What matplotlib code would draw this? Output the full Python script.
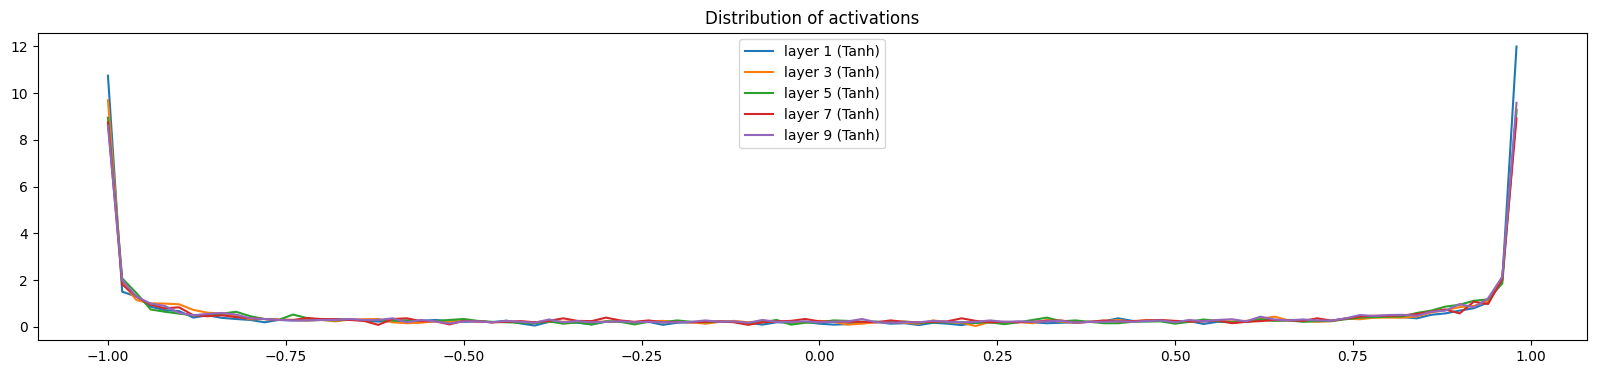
import numpy as np
import matplotlib
matplotlib.use("Agg")
import matplotlib.pyplot as plt

# histogram bins: 100 bins on [-1, 1], plotted at left bin edges
n_bins = 100
bin_edges = np.linspace(-1.0, 1.0, n_bins + 1)[:-1]

labels = ["layer 1 (Tanh)", "layer 3 (Tanh)", "layer 5 (Tanh)", "layer 7 (Tanh)", "layer 9 (Tanh)"]

layer1 = [10.75, 1.51, 1.30, 0.87, 0.72, 0.68, 0.40, 0.50, 0.39, 0.34,
          0.30, 0.20, 0.30, 0.28, 0.28, 0.30, 0.33, 0.32, 0.28, 0.23,
          0.25, 0.22, 0.26, 0.30, 0.25, 0.22, 0.24, 0.20, 0.27, 0.15,
          0.06, 0.22, 0.20, 0.18, 0.12, 0.22, 0.25, 0.20, 0.22, 0.09,
          0.18, 0.20, 0.21, 0.23, 0.22, 0.18, 0.10, 0.20, 0.18, 0.22,
          0.14, 0.10, 0.12, 0.20, 0.22, 0.14, 0.16, 0.08, 0.18, 0.14,
          0.08, 0.18, 0.20, 0.18, 0.22, 0.20, 0.16, 0.18, 0.20, 0.22,
          0.24, 0.37, 0.26, 0.24, 0.26, 0.22, 0.25, 0.13, 0.22, 0.20,
          0.22, 0.30, 0.28, 0.30, 0.30, 0.26, 0.27, 0.36, 0.40, 0.42,
          0.44, 0.42, 0.37, 0.52, 0.58, 0.70, 0.80, 1.05, 2.00, 12.0]

layer3 = [9.70, 1.90, 1.15, 1.01, 1.00, 0.97, 0.73, 0.61, 0.58, 0.46,
          0.33, 0.34, 0.32, 0.30, 0.28, 0.30, 0.24, 0.32, 0.33, 0.34,
          0.20, 0.16, 0.18, 0.25, 0.22, 0.26, 0.24, 0.20, 0.22, 0.22,
          0.20, 0.24, 0.22, 0.25, 0.20, 0.24, 0.22, 0.20, 0.24, 0.26,
          0.22, 0.20, 0.14, 0.22, 0.26, 0.20, 0.22, 0.24, 0.22, 0.20,
          0.26, 0.22, 0.10, 0.14, 0.20, 0.22, 0.18, 0.14, 0.28, 0.20,
          0.18, 0.04, 0.22, 0.20, 0.22, 0.16, 0.30, 0.22, 0.18, 0.22,
          0.24, 0.30, 0.22, 0.30, 0.26, 0.24, 0.22, 0.28, 0.25, 0.24,
          0.26, 0.35, 0.44, 0.28, 0.26, 0.22, 0.25, 0.36, 0.33, 0.40,
          0.40, 0.40, 0.45, 0.62, 0.72, 0.85, 0.90, 1.10, 2.10, 9.30]

layer5 = [8.95, 2.08, 1.45, 0.75, 0.65, 0.57, 0.50, 0.50, 0.57, 0.65,
          0.46, 0.34, 0.30, 0.53, 0.38, 0.30, 0.28, 0.32, 0.28, 0.30,
          0.28, 0.28, 0.26, 0.25, 0.30, 0.34, 0.26, 0.22, 0.20, 0.18,
          0.16, 0.24, 0.14, 0.20, 0.10, 0.24, 0.22, 0.11, 0.22, 0.20,
          0.28, 0.22, 0.20, 0.22, 0.22, 0.16, 0.20, 0.30, 0.10, 0.18,
          0.20, 0.28, 0.26, 0.22, 0.23, 0.20, 0.23, 0.18, 0.20, 0.20,
          0.20, 0.18, 0.20, 0.12, 0.20, 0.30, 0.40, 0.24, 0.28, 0.22,
          0.16, 0.16, 0.22, 0.24, 0.24, 0.14, 0.22, 0.32, 0.25, 0.20,
          0.22, 0.33, 0.26, 0.28, 0.22, 0.25, 0.25, 0.33, 0.40, 0.42,
          0.44, 0.45, 0.60, 0.70, 0.87, 0.95, 1.12, 1.18, 1.86, 9.27]

layer7 = [8.75, 1.82, 1.30, 0.95, 0.80, 0.84, 0.50, 0.46, 0.50, 0.42,
          0.37, 0.34, 0.30, 0.30, 0.38, 0.34, 0.33, 0.30, 0.26, 0.09,
          0.34, 0.37, 0.25, 0.24, 0.11, 0.26, 0.24, 0.20, 0.22, 0.25,
          0.20, 0.26, 0.37, 0.26, 0.25, 0.40, 0.28, 0.22, 0.28, 0.20,
          0.22, 0.20, 0.22, 0.24, 0.20, 0.09, 0.20, 0.24, 0.26, 0.34,
          0.24, 0.22, 0.22, 0.22, 0.20, 0.28, 0.22, 0.20, 0.22, 0.24,
          0.37, 0.26, 0.20, 0.22, 0.20, 0.22, 0.26, 0.28, 0.18, 0.22,
          0.28, 0.24, 0.25, 0.28, 0.30, 0.26, 0.24, 0.24, 0.28, 0.16,
          0.22, 0.25, 0.30, 0.28, 0.26, 0.37, 0.27, 0.36, 0.45, 0.48,
          0.48, 0.50, 0.55, 0.66, 0.75, 0.58, 1.08, 0.98, 2.05, 8.92]

layer9 = [8.60, 2.00, 1.30, 1.00, 0.90, 0.60, 0.50, 0.56, 0.60, 0.53,
          0.37, 0.34, 0.30, 0.28, 0.28, 0.30, 0.30, 0.34, 0.30, 0.30,
          0.37, 0.20, 0.30, 0.24, 0.15, 0.24, 0.24, 0.20, 0.26, 0.22,
          0.18, 0.32, 0.20, 0.25, 0.20, 0.22, 0.24, 0.20, 0.22, 0.20,
          0.20, 0.22, 0.28, 0.22, 0.24, 0.18, 0.30, 0.22, 0.22, 0.24,
          0.20, 0.22, 0.24, 0.34, 0.20, 0.18, 0.20, 0.20, 0.26, 0.22,
          0.20, 0.22, 0.28, 0.22, 0.24, 0.22, 0.24, 0.26, 0.18, 0.22,
          0.22, 0.24, 0.22, 0.26, 0.28, 0.20, 0.30, 0.24, 0.30, 0.33,
          0.24, 0.44, 0.32, 0.28, 0.32, 0.28, 0.27, 0.37, 0.51, 0.47,
          0.51, 0.52, 0.48, 0.65, 0.70, 0.98, 0.84, 1.22, 2.15, 9.59]

series = [layer1, layer3, layer5, layer7, layer9]

fig = plt.figure(figsize=(15.97, 3.74), dpi=100)
ax = fig.add_axes([0.0235, 0.0909, 0.9702, 0.8222])
for ys, lab in zip(series, labels):
    ax.plot(bin_edges, ys, label=lab)
ax.legend(loc="upper center")
ax.set_title("Distribution of activations")
fig.savefig("out.png", dpi=100)
